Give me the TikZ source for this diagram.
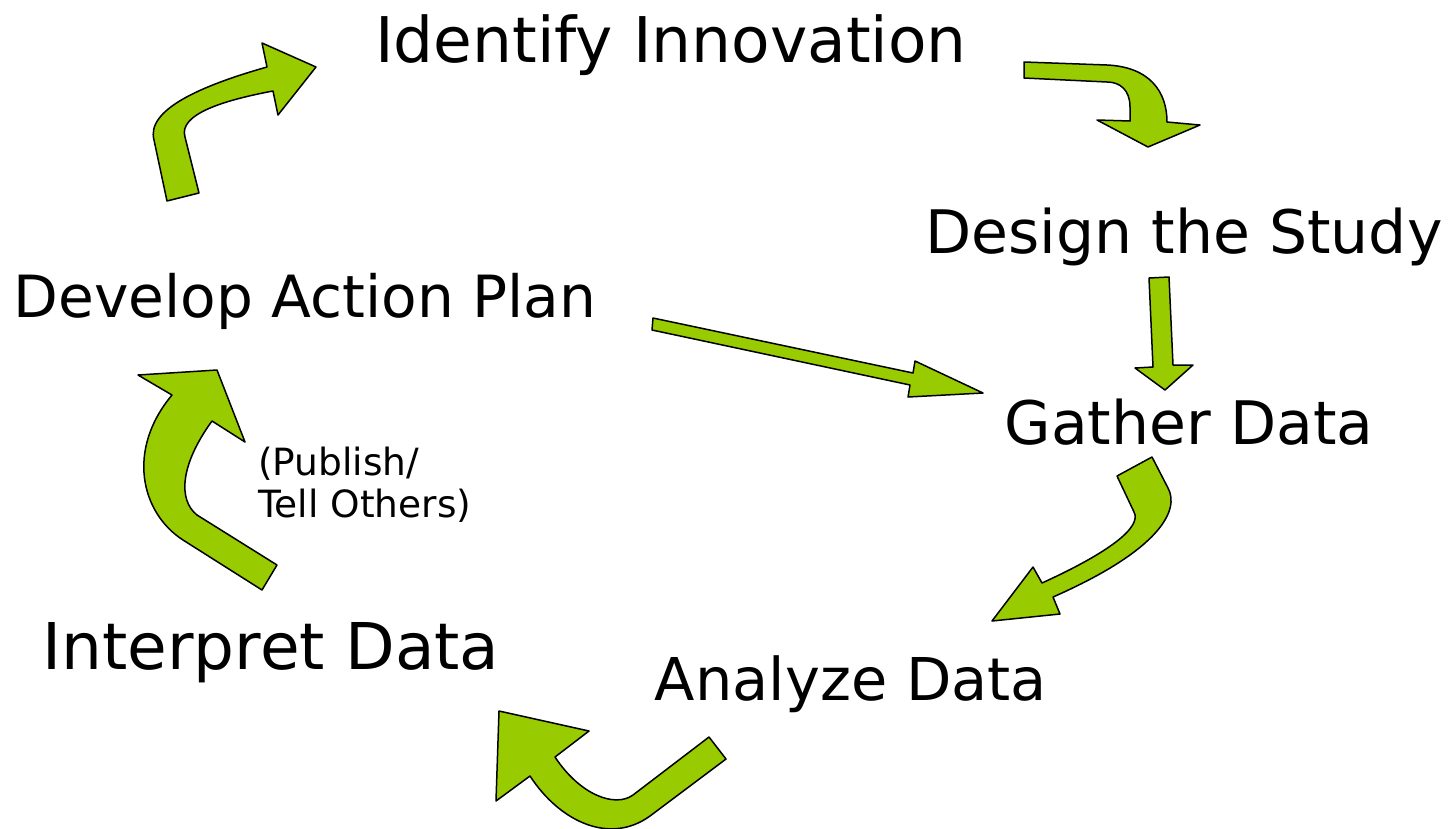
\documentclass[tikz,border=0pt]{standalone}
\usepackage{fontspec}
\setmainfont{DejaVu Sans}
\definecolor{arrowgreen}{HTML}{99CC00}
\newcommand{\stagesize}[1]{\fontsize{#1}{#1}\selectfont}
\begin{document}
\begin{tikzpicture}[x=1pt,y=-1pt,
  blockarrow/.style={fill=arrowgreen,draw=black,line width=1.5pt,line join=round},
  stage/.style={inner sep=0pt,anchor=base,font=\stagesize{60}},
  note/.style={inner sep=0pt,anchor=north west,align=left,font=\fontsize{37.5}{42}\selectfont}]
\useasboundingbox (0,0) rectangle (1448,828);
% stage labels
\node[stage,font=\stagesize{63}] (identify) at (671,62) {Identify Innovation};
\node[stage] (design) at (1184,253) {Design the Study};
\node[stage,font=\stagesize{58.2}] (develop) at (305,317) {Develop Action Plan};
\node[stage] (gather) at (1189,444) {Gather Data};
\node[stage,font=\stagesize{64.5}] (interpret) at (271,669) {Interpret Data};
\node[stage,font=\stagesize{59}] (analyze) at (851,700) {Analyze Data};
\node[note] (publish) at (258,447) {(Publish/\\Tell Others)};
% Develop -> Identify
\draw[blockarrow] (167,201) -- (154,140) .. controls (146,110) and (200,86) .. (267,67)
  -- (262,43) -- (316,67) -- (278,115) -- (273,91)
  .. controls (225,100) and (178,114) .. (185,137) -- (199,193) -- cycle;
% Identify -> Design
\draw[blockarrow] (1024,62) -- (1107,65) .. controls (1150,67) and (1167,92) .. (1167,122)
  -- (1200,125) -- (1148,147) -- (1097,120) -- (1130,121) -- (1130,107)
  .. controls (1130,90) and (1120,82) .. (1107,82) -- (1024,78) -- cycle;
% Design -> Gather
\draw[blockarrow] (1149,278) -- (1169,277) -- (1173,365) -- (1193,365) -- (1165,390)
  -- (1135,368) -- (1153,367) -- cycle;
% Develop -> Gather
\draw[blockarrow] (653,318) -- (913,373) -- (915,361) -- (983,393) -- (908,397)
  -- (910,385) -- (652,330) -- cycle;
% Gather -> Analyze
\draw[blockarrow] (1117,476) -- (1152,457) -- (1168,488)
  .. controls (1180,510) and (1160,550) .. (1053,597)
  -- (1060,614) -- (992,621) -- (1033,567) -- (1042,583)
  .. controls (1110,552) and (1142,527) .. (1134,512) -- cycle;
% Analyze -> Interpret
\draw[blockarrow] (709,737) -- (726,759) -- (650,816)
  .. controls (610,845) and (560,822) .. (530,776)
  -- (496,801) -- (499,711) -- (589,731) -- (555,757)
  .. controls (580,795) and (615,808) .. (633,795) -- cycle;
% Interpret -> Develop
\draw[blockarrow] (277,565) -- (262,590) -- (183,540)
  .. controls (141,513) and (126,450) .. (172,395)
  -- (138,375) -- (217,370) -- (245,442) -- (212,421)
  .. controls (180,465) and (178,500) .. (197,515) -- cycle;
\end{tikzpicture}
\end{document}
